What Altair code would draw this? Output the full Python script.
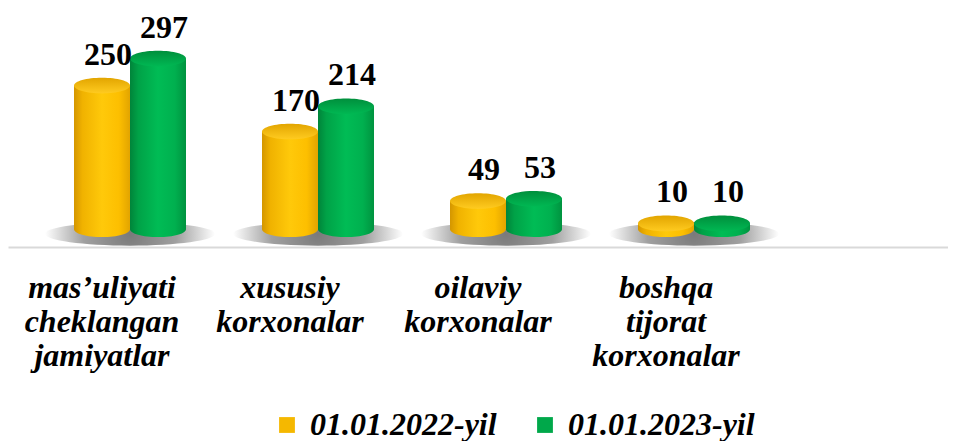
import altair as alt
import pandas as pd

categories = ["mas’uliyati cheklangan jamiyatlar", "xususiy korxonalar",
              "oilaviy korxonalar", "boshqa tijorat korxonalar"]
series = ["01.01.2022-yil", "01.01.2023-yil"]
values_2022 = [250, 170, 49, 10]
values_2023 = [297, 214, 53, 10]

rows = []
for c, v in zip(categories, values_2022):
    rows.append({"category": c, "series": series[0], "value": v})
for c, v in zip(categories, values_2023):
    rows.append({"category": c, "series": series[1], "value": v})
df = pd.DataFrame(rows)
cat_df = pd.DataFrame({"category": categories})

FONT = "Liberation Serif"
ELLIPSE = "M-1,0A1,0.28,0,1,0,1,0A1,0.28,0,1,0,-1,0Z"
SHADOW = "M-1,0A1,0.14,0,1,0,1,0A1,0.14,0,1,0,-1,0Z"

x_scale = alt.Scale(domain=categories, paddingInner=0, paddingOuter=0.5, align=0)
x_axis = alt.Axis(
    title=None, ticks=False, labelAngle=0, domainColor="#D9D9D9", domainWidth=2,
    labelExpr="split(datum.label, ' ')", labelFont=FONT, labelFontSize=32,
    labelFontStyle="italic", labelFontWeight="bold", labelColor="black",
    labelLineHeight=34, labelPadding=25, labelLimit=0,
)
x_enc = alt.X("category:N", sort=categories, scale=x_scale, axis=x_axis)
xo_enc = alt.XOffset("series:N", sort=series,
                     scale=alt.Scale(domain=series, range=[66, 178], paddingInner=0, paddingOuter=0))
y_scale = alt.Scale(domain=[-31, 385], nice=False, zero=False)


def lin(stops, vertical=False):
    return alt.LinearGradient(
        gradient="linear",
        stops=[alt.GradientStop(color=c, offset=o) for o, c in stops],
        x1=0, x2=0 if vertical else 1, y1=0, y2=1 if vertical else 0,
    )


body_grad = {
    series[0]: lin([(0, "#D49600"), (0.15, "#F0B200"), (0.5, "#FFC90A"), (0.8, "#FDBF00"), (1, "#E2A400")]),
    series[1]: lin([(0, "#00843A"), (0.15, "#00A247"), (0.5, "#00BC55"), (0.8, "#00B04F"), (1, "#00933F")]),
}
top_grad = {
    series[0]: lin([(0, "#E2A500"), (1, "#FFCB20")], vertical=True),
    series[1]: lin([(0, "#008F3C"), (1, "#00B853")], vertical=True),
}

shadow = alt.Chart(cat_df).mark_point(
    shape=SHADOW, filled=True, size=170 * 170, opacity=1, strokeWidth=0,
    fill=alt.RadialGradient(
        gradient="radial", x1=0.5, y1=0.5, r1=0, x2=0.5, y2=0.5, r2=0.5,
        stops=[alt.GradientStop(color="#7a7a7a", offset=0),
               alt.GradientStop(color="#a0a0a0", offset=0.55),
               alt.GradientStop(color="#ffffff", offset=1)],
    ),
).encode(
    x=alt.X("category:N", sort=categories, scale=x_scale, axis=x_axis, bandPosition=0.649),
    y=alt.YDatum(-8, scale=y_scale, axis=None),
)

layers = [shadow]
for s in series:
    sub = alt.Chart(df).transform_filter(alt.datum.series == s)
    bottom = sub.mark_point(shape=ELLIPSE, filled=True, size=56 * 56, opacity=1,
                            strokeWidth=0, fill=body_grad[s]).encode(
        x=x_enc, xOffset=xo_enc, y=alt.YDatum(0, scale=y_scale, axis=None))
    body = sub.mark_bar(fill=body_grad[s], strokeWidth=0).encode(
        x=x_enc, xOffset=xo_enc,
        y=alt.Y("value:Q", scale=y_scale, axis=None), y2=alt.Y2Datum(0))
    top = sub.mark_point(shape=ELLIPSE, filled=True, size=56 * 56, opacity=1,
                         strokeWidth=0, fill=top_grad[s]).encode(
        x=x_enc, xOffset=xo_enc, y=alt.Y("value:Q", scale=y_scale, axis=None))
    layers += [bottom, body, top]

legend_layer = alt.Chart(df).mark_point(filled=True, opacity=0, size=1).encode(
    x=x_enc, xOffset=xo_enc, y=alt.Y("value:Q", scale=y_scale, axis=None),
    color=alt.Color("series:N", sort=series,
                    scale=alt.Scale(domain=series, range=["#F5B800", "#00A84A"]),
                    legend=alt.Legend(
                        title=None, orient="none", legendX=263, legendY=401,
                        direction="horizontal", symbolType="square", symbolSize=250,
                        symbolOpacity=1, symbolStrokeWidth=0, labelFont=FONT,
                        labelFontSize=32, labelFontStyle="italic", labelFontWeight="bold",
                        labelColor="black", labelOffset=7, columnPadding=32, labelLimit=0)),
)

labels = alt.Chart(df).mark_text(
    font=FONT, fontSize=32, fontWeight="bold", color="black", dy=-21, dx=6,
    baseline="alphabetic", align="center",
).encode(
    x=x_enc, xOffset=xo_enc, y=alt.Y("value:Q", scale=y_scale, axis=None),
    text=alt.Text("value:Q"),
)

chart = alt.layer(*layers, legend_layer, labels).properties(
    width=940, height=239, padding=0,
).configure_view(stroke=None)

chart.save("out.html", embed_options={"renderer": "svg", "actions": False})
